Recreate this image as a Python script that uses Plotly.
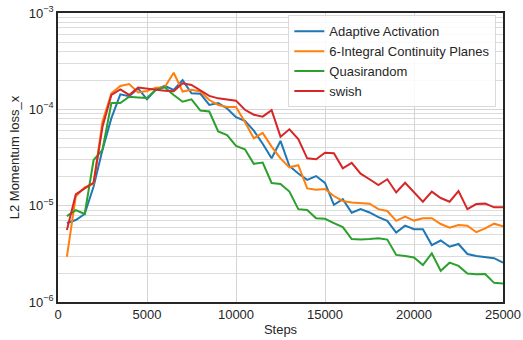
import plotly.graph_objects as go

steps = list(range(500, 25001, 500))

adaptive_activation = [
    6.6e-6, 7.1e-6, 8.2e-6, 1.58e-5, 3.8e-5, 8.1e-5, 1.43e-4, 1.37e-4, 1.65e-4, 1.27e-4,
    1.6e-4, 1.75e-4, 1.59e-4, 2.01e-4, 1.47e-4, 1.45e-4, 1.11e-4, 1.16e-4, 1.02e-4, 8.3e-5,
    7.6e-5, 6.0e-5, 4.4e-5, 3.1e-5, 4.7e-5, 2.58e-5, 2.16e-5, 1.85e-5, 2.03e-5, 1.72e-5,
    1.02e-5, 1.17e-5, 8.45e-6, 9.2e-6, 8.5e-6, 7.6e-6, 6.95e-6, 5.25e-6, 6.2e-6, 5.7e-6,
    5.7e-6, 3.9e-6, 4.35e-6, 3.75e-6, 4.0e-6, 3.15e-6, 3.0e-6, 2.95e-6, 2.85e-6, 2.56e-6,
]

integral_planes = [
    2.95e-6, 1.25e-5, 1.55e-5, 1.7e-5, 7.5e-5, 1.47e-4, 1.75e-4, 1.83e-4, 1.5e-4, 1.55e-4,
    1.68e-4, 1.7e-4, 2.4e-4, 1.53e-4, 1.6e-4, 1.53e-4, 1.25e-4, 1.11e-4, 1.06e-4, 1.06e-4,
    7.4e-5, 5.0e-5, 5.7e-5, 4.1e-5, 3.1e-5, 2.5e-5, 2.63e-5, 1.51e-5, 1.46e-5, 1.49e-5,
    1.26e-5, 1.12e-5, 1.08e-5, 1.07e-5, 1.05e-5, 9.2e-6, 8.8e-6, 6.95e-6, 7.7e-6, 7.0e-6,
    7.4e-6, 7.4e-6, 6.45e-6, 5.9e-6, 6.3e-6, 6.2e-6, 5.3e-6, 5.8e-6, 6.5e-6, 6.1e-6,
]

quasirandom = [
    7.8e-6, 9.0e-6, 8.2e-6, 2.98e-5, 3.8e-5, 1.16e-4, 1.16e-4, 1.35e-4, 1.33e-4, 1.31e-4,
    1.6e-4, 1.69e-4, 1.41e-4, 1.2e-4, 1.27e-4, 9.7e-5, 9.5e-5, 5.9e-5, 5.4e-5, 4.17e-5,
    3.85e-5, 2.72e-5, 2.8e-5, 1.72e-5, 1.68e-5, 1.4e-5, 9.2e-6, 9.0e-6, 7.4e-6, 7.3e-6,
    6.6e-6, 6.0e-6, 4.5e-6, 4.45e-6, 4.5e-6, 4.6e-6, 4.45e-6, 3.08e-6, 3.0e-6, 2.9e-6,
    2.42e-6, 3.2e-6, 2.11e-6, 2.56e-6, 2.37e-6, 1.98e-6, 1.94e-6, 1.95e-6, 1.58e-6, 1.56e-6,
]

swish = [
    5.6e-6, 1.31e-5, 1.51e-5, 1.73e-5, 6.6e-5, 1.41e-4, 1.61e-4, 1.41e-4, 1.68e-4, 1.63e-4,
    1.6e-4, 1.56e-4, 1.54e-4, 1.86e-4, 1.79e-4, 1.56e-4, 1.38e-4, 1.3e-4, 1.27e-4, 1.23e-4,
    9.9e-5, 8.8e-5, 8.4e-5, 9.8e-5, 5.2e-5, 6.2e-5, 4.9e-5, 3.1e-5, 3.03e-5, 3.55e-5,
    3.5e-5, 2.44e-5, 2.78e-5, 2.15e-5, 1.88e-5, 1.64e-5, 1.88e-5, 1.37e-5, 1.73e-5, 1.38e-5,
    1.1e-5, 1.4e-5, 1.2e-5, 1.1e-5, 1.42e-5, 9.2e-6, 1.04e-5, 1.05e-5, 9.6e-6, 9.6e-6,
]

series = [
    ("Adaptive Activation", adaptive_activation, "#1f77b4"),
    ("6-Integral Continuity Planes", integral_planes, "#ff7f0e"),
    ("Quasirandom", quasirandom, "#2ca02c"),
    ("swish", swish, "#d62728"),
]

x_ticks = [0, 5000, 10000, 15000, 20000, 25000]
y_decades = [1e-6, 1e-5, 1e-4, 1e-3]
y_labels = ["10<sup>\u22126</sup>", "10<sup>\u22125</sup>",
            "10<sup>\u22124</sup>", "10<sup>\u22123</sup>"]

# minor log gridlines at 2..9 times each decade
y_minor = [m * d for d in y_decades[:-1] for m in range(2, 10)]

fig = go.Figure()
for name, values, color in series:
    fig.add_trace(go.Scatter(
        x=steps, y=values, mode="lines", name=name,
        line=dict(color=color, width=2),
    ))

base_font = dict(family="Liberation Sans, Arial, sans-serif", size=13, color="#262626")

fig.update_layout(
    width=523, height=340,
    margin=dict(l=58, r=20, t=13, b=38, autoexpand=False),
    paper_bgcolor="white", plot_bgcolor="white",
    font=base_font,
    showlegend=True,
    legend=dict(
        x=0.985, y=0.992, xanchor="right", yanchor="top",
        bgcolor="rgba(255,255,255,0.85)", bordercolor="#d9d9d9", borderwidth=1,
        font=base_font,
        itemwidth=30, tracegroupgap=0,
    ),
    xaxis=dict(
        range=[0, 25000], tickvals=x_ticks, ticktext=[str(v) for v in x_ticks],
        showgrid=True, gridcolor="#d5d5d5", gridwidth=1,
        showline=True, linecolor="#262626", linewidth=1.5, mirror=True,
        ticks="", zeroline=False, automargin=False,
        title=dict(text="Steps", standoff=4, font=dict(size=13)),
    ),
    yaxis=dict(
        type="log", range=[-6, -3],
        tickvals=y_decades, ticktext=y_labels,
        showgrid=True, gridcolor="#d5d5d5", gridwidth=1,
        minor=dict(tickmode="array", tickvals=y_minor, ticks="",
                   showgrid=True, gridcolor="#dcdcdc", gridwidth=1),
        showline=True, linecolor="#262626", linewidth=1.5, mirror=True,
        ticks="", zeroline=False, automargin=False,
        title=dict(text="L2 Momentum loss_x", standoff=6, font=dict(size=13)),
    ),
)

fig.write_html("out.html")
